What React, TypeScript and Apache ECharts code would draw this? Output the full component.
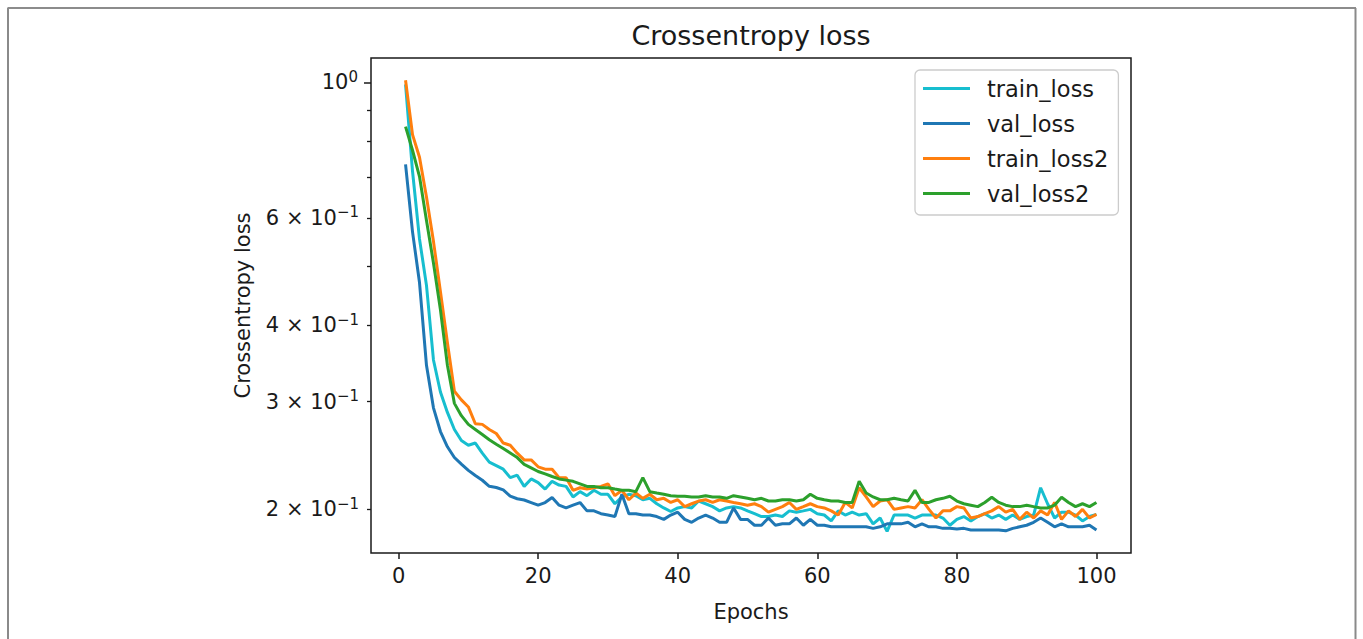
import React, { useEffect, useRef } from "react";
import * as echarts from "echarts";

const epochs: number[] = Array.from({ length: 100 }, (_, i) => i + 1);

const trainLoss: number[] = [
  0.992, 0.715, 0.554, 0.465, 0.351, 0.311, 0.288, 0.270, 0.259, 0.2545,
  0.2566, 0.247, 0.2388, 0.2357, 0.2325, 0.2252, 0.2273, 0.2179, 0.2241, 0.221,
  0.2157, 0.2221, 0.219, 0.2179, 0.2094, 0.2136, 0.2104, 0.2147, 0.2115, 0.2115,
  0.2041, 0.2094, 0.2115, 0.2104, 0.2072, 0.2083, 0.2041, 0.2009, 0.1982, 0.2009,
  0.2019, 0.2009, 0.2062, 0.2041, 0.2019, 0.1987, 0.2009, 0.2019, 0.2009, 0.1987,
  0.1966, 0.1945, 0.1945, 0.1956, 0.1945, 0.1987, 0.1977, 0.1987, 0.1998, 0.1966,
  0.1956, 0.1913, 0.1987, 0.1956, 0.1977, 0.1956, 0.1966, 0.1892, 0.1934, 0.1839,
  0.1956, 0.1956, 0.1956, 0.1934, 0.1956, 0.1956, 0.1956, 0.1934, 0.1882, 0.1924,
  0.1945, 0.1913, 0.1945, 0.1966, 0.1934, 0.1956, 0.1924, 0.1956, 0.1924, 0.1945,
  0.1956, 0.2168, 0.2041, 0.1934, 0.1977, 0.1977, 0.1956, 0.1913, 0.1945, 0.1961,
];

const valLoss: number[] = [
  0.734, 0.569, 0.470, 0.344, 0.293, 0.268, 0.253, 0.243, 0.237, 0.2315,
  0.227, 0.223, 0.218, 0.217, 0.215, 0.210, 0.208, 0.207, 0.205, 0.203,
  0.205, 0.209, 0.203, 0.201, 0.203, 0.205, 0.1987, 0.1987, 0.1966, 0.1956,
  0.1945, 0.2115, 0.1966, 0.1966, 0.1956, 0.1956, 0.1945, 0.1924, 0.1956, 0.1977,
  0.1924, 0.1903, 0.1934, 0.1956, 0.1934, 0.1903, 0.1903, 0.2009, 0.1924, 0.1924,
  0.1882, 0.1882, 0.1934, 0.1882, 0.1892, 0.1892, 0.1934, 0.1882, 0.1924, 0.1882,
  0.1882, 0.1871, 0.1871, 0.1871, 0.1871, 0.1871, 0.1871, 0.1860, 0.1871, 0.1892,
  0.1892, 0.1892, 0.1903, 0.1871, 0.1892, 0.1871, 0.1871, 0.1860, 0.1860, 0.1855,
  0.1860, 0.1849, 0.1849, 0.1849, 0.1849, 0.1849, 0.1843, 0.1860, 0.1871, 0.1882,
  0.1903, 0.1934, 0.1903, 0.1871, 0.1892, 0.1871, 0.1871, 0.1871, 0.1882, 0.1849,
];

const trainLoss2: number[] = [
  1.008, 0.821, 0.754, 0.649, 0.549, 0.454, 0.3745, 0.312, 0.302, 0.294,
  0.276, 0.2753, 0.270, 0.266, 0.2566, 0.2545, 0.247, 0.2408, 0.2408, 0.2346,
  0.2325, 0.2325, 0.2252, 0.2252, 0.2147, 0.2168, 0.2157, 0.2168, 0.2179, 0.2200,
  0.2104, 0.2147, 0.2072, 0.2125, 0.2083, 0.2115, 0.2072, 0.2083, 0.2051, 0.2072,
  0.2019, 0.2041, 0.2062, 0.2072, 0.2051, 0.2072, 0.2062, 0.2051, 0.2041, 0.2030,
  0.2041, 0.2019, 0.1977, 0.1998, 0.2019, 0.2051, 0.1998, 0.2019, 0.2041, 0.2019,
  0.2009, 0.1987, 0.1956, 0.2051, 0.2009, 0.2168, 0.2094, 0.2019, 0.2062, 0.2072,
  0.1998, 0.2009, 0.2019, 0.2009, 0.2072, 0.1998, 0.1934, 0.1987, 0.1987, 0.2019,
  0.2009, 0.1934, 0.1945, 0.1966, 0.1987, 0.2019, 0.1977, 0.1998, 0.1924, 0.1977,
  0.1934, 0.1987, 0.1956, 0.2051, 0.1924, 0.1987, 0.1945, 0.1998, 0.1934, 0.1961,
];

const valLoss2: number[] = [
  0.846, 0.774, 0.701, 0.594, 0.506, 0.424, 0.344, 0.298, 0.2845, 0.2753,
  0.2701, 0.265, 0.2598, 0.2555, 0.2513, 0.2471, 0.2429, 0.2367, 0.2336, 0.2305,
  0.2284, 0.2262, 0.2241, 0.2231, 0.2221, 0.2200, 0.2179, 0.2179, 0.2168, 0.2168,
  0.2157, 0.2147, 0.2147, 0.2136, 0.2252, 0.2136, 0.2125, 0.2115, 0.2104, 0.2099,
  0.2099, 0.2094, 0.2094, 0.2104, 0.2094, 0.2094, 0.2083, 0.2104, 0.2094, 0.2083,
  0.2072, 0.2083, 0.2062, 0.2062, 0.2072, 0.2072, 0.2062, 0.2072, 0.2115, 0.2083,
  0.2072, 0.2062, 0.2062, 0.2051, 0.2051, 0.2221, 0.2125, 0.2094, 0.2072, 0.2072,
  0.2083, 0.2072, 0.2062, 0.2147, 0.2051, 0.2051, 0.2072, 0.2083, 0.2099, 0.2062,
  0.2041, 0.2030, 0.2019, 0.2051, 0.2091, 0.2051, 0.2030, 0.2019, 0.2019, 0.2030,
  0.2019, 0.2009, 0.2009, 0.2030, 0.2091, 0.2051, 0.2019, 0.2041, 0.2019, 0.2051,
];

const seriesNames = ["train_loss", "val_loss", "train_loss2", "val_loss2"];
const seriesColors = ["#17becf", "#1f77b4", "#ff7f0e", "#2ca02c"];
const seriesValues = [trainLoss, valLoss, trainLoss2, valLoss2];

const xTicks = [0, 20, 40, 60, 80, 100];
const yMinorTicks = [0.2, 0.3, 0.4, 0.5, 0.6, 0.7, 0.8, 0.9];
const yMinorLabels = [0.2, 0.3, 0.4, 0.6];
const yMajorTicks = [1];

const FONT = "DejaVu Sans";
const INK = "#1a1a1a";

export default function App() {
  const ref = useRef<HTMLDivElement>(null);

  useEffect(() => {
    if (!ref.current) return;
    const chart = echarts.init(ref.current, undefined, { renderer: "svg" });

    const rich = {
      b: { fontSize: 21, fontFamily: FONT, color: INK, lineHeight: 26 },
      s: { fontSize: 15, fontFamily: FONT, color: INK, lineHeight: 15, verticalAlign: "top" as const },
    };
    const fmt = (v: number) => {
      const r = Math.round(v * 10);
      if (r >= 10) return "{b|10}{s|0}";
      return `{b|${r} × 10}{s|−1}`;
    };

    chart.setOption({
      animation: false,
      backgroundColor: "#ffffff",
      title: {
        text: "Crossentropy loss",
        left: 751,
        textAlign: "center",
        top: 22,
        padding: 0,
        textStyle: { fontFamily: FONT, fontSize: 27, fontWeight: "normal", color: INK },
      },
      grid: {
        left: 371,
        right: 232,
        top: 58,
        bottom: 86,
        show: true,
        borderColor: INK,
        borderWidth: 1.5,
        backgroundColor: "transparent",
      },
      legend: {
        orient: "vertical",
        left: 915,
        top: 70,
        data: seriesNames,
        icon: "rect",
        itemWidth: 47,
        itemHeight: 3.2,
        itemGap: 12,
        padding: [7, 10, 10, 8],
        backgroundColor: "rgba(255,255,255,0.8)",
        borderColor: "#cccccc",
        borderWidth: 1.3,
        borderRadius: 5,
        textStyle: { fontFamily: FONT, fontSize: 22.5, color: INK, lineHeight: 22, padding: [0, 0, 0, 12] },
      },
      xAxis: {
        type: "value",
        min: -3.95,
        max: 104.95,
        name: "Epochs",
        nameLocation: "middle",
        nameGap: 48,
        nameTextStyle: { fontFamily: FONT, fontSize: 21, color: INK },
        axisLine: { show: false, onZero: false },
        splitLine: { show: false },
        axisTick: { show: true, customValues: xTicks, length: 6, lineStyle: { color: INK, width: 1.5 } },
        axisLabel: {
          customValues: xTicks,
          margin: 12,
          fontFamily: FONT,
          fontSize: 21,
          color: INK,
        },
      },
      yAxis: [
        {
          type: "log",
          logBase: 10,
          min: 0.1695,
          max: 1.096,
          position: "left",
          name: "Crossentropy loss",
          nameLocation: "middle",
          nameGap: 118,
          nameRotate: 90,
          nameTextStyle: { fontFamily: FONT, fontSize: 21, color: INK },
          axisLine: { show: false, onZero: false },
          splitLine: { show: false },
          minorTick: { show: false },
          axisTick: { show: true, customValues: yMinorTicks, length: 4, lineStyle: { color: INK, width: 1.3 } },
          axisLabel: { customValues: yMinorLabels, margin: 12, formatter: fmt, rich },
        },
        {
          type: "log",
          logBase: 10,
          min: 0.1695,
          max: 1.096,
          position: "left",
          axisLine: { show: false, onZero: false },
          splitLine: { show: false },
          axisTick: { show: true, customValues: yMajorTicks, length: 7, lineStyle: { color: INK, width: 1.5 } },
          axisLabel: { customValues: yMajorTicks, margin: 13, formatter: fmt, rich },
        },
      ],
      graphic: [
        { type: "line", silent: true, shape: { x1: 7.5, y1: 8, x2: 1356, y2: 8 }, style: { stroke: "#1a1a1a", lineWidth: 1.2 } },
        { type: "line", silent: true, shape: { x1: 8, y1: 8, x2: 8, y2: 639 }, style: { stroke: "#8a8a8a", lineWidth: 2 } },
        { type: "line", silent: true, shape: { x1: 1355.5, y1: 8, x2: 1355.5, y2: 639 }, style: { stroke: "#8a8a8a", lineWidth: 2 } },
      ],
      series: seriesNames.map((name, i) => ({
        name,
        type: "line",
        xAxisIndex: 0,
        yAxisIndex: 0,
        symbol: "none",
        color: seriesColors[i],
        lineStyle: { width: 3, color: seriesColors[i] },
        data: epochs.map((e, k) => [e, seriesValues[i][k]]),
      })),
    });

    return () => chart.dispose();
  }, []);

  return (
    <div
      ref={ref}
      style={{ position: "fixed", left: 0, top: 0, width: 1363, height: 639, background: "#fff" }}
    />
  );
}
